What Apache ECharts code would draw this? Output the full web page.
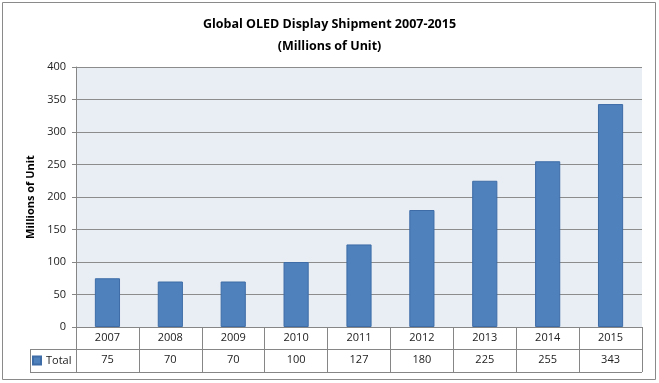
<!DOCTYPE html>
<html><head><meta charset="utf-8">
<script src="https://cdn.jsdelivr.net/npm/echarts@6/dist/echarts.min.js"></script>
<style>html,body{margin:0;padding:0;background:#fff}#c{width:659px;height:383px}</style>
</head><body><div id="c"></div>
<script>
const categories = ['2007','2008','2009','2010','2011','2012','2013','2014','2015'];
const totals = [75,70,70,100,127,180,225,255,343];
const seriesName = 'Total';
const yTicks = {min:0, max:400, interval:50};

const font = "'Open Sans', 'DejaVu Sans', sans-serif";
const chart = echarts.init(document.getElementById('c'));
const G = {left:76, right:17, top:67, bottom:56};
const W = 659, H = 383;
const gx0 = G.left, gx1 = W - G.right, gy1 = H - G.bottom;
chart.setOption({
  animation:false,
  textStyle:{fontFamily:font},
  title:{
    text:'Global OLED Display Shipment 2007-2015\n(Millions of Unit)',
    left:'center', top:8,
    textStyle:{fontFamily:font, fontSize:12.5, fontWeight:'bold', color:'#000', lineHeight:22}
  },
  legend:{
    data:[seriesName], left:32, top:355, itemWidth:8, itemHeight:8, itemGap:4,
    icon:'rect', textStyle:{fontSize:11, color:'#222', fontFamily:font}, padding:0
  },
  grid:{left:G.left, right:G.right, top:G.top, bottom:G.bottom, show:true, backgroundColor:'#e9edf4', borderWidth:0},
  xAxis:[{
    type:'category', data:categories, position:'bottom',
    axisLine:{show:true, lineStyle:{color:'#868686'}},
    axisTick:{show:true, interval:0, length:45, lineStyle:{color:'#868686'}},
    axisLabel:{interval:0, color:'#222', fontSize:11, margin:5}
  },{
    type:'category', data:categories, position:'bottom', offset:22,
    axisLine:{show:false}, axisTick:{show:false},
    axisLabel:{interval:0, color:'#222', fontSize:11, margin:5,
      formatter:(v, i)=>String(totals[i])}
  }],
  yAxis:{
    type:'value', min:yTicks.min, max:yTicks.max, interval:yTicks.interval,
    name:'Millions of Unit', nameLocation:'middle', nameGap:40,
    nameTextStyle:{fontWeight:'bold', fontSize:11, color:'#000', fontFamily:font},
    axisLine:{show:true, lineStyle:{color:'#868686'}},
    axisTick:{show:true, length:4, lineStyle:{color:'#868686'}},
    axisLabel:{color:'#222', fontSize:11, margin:10},
    splitLine:{show:true, lineStyle:{color:'#8c8c8c', width:1}}
  },
  series:[{
    name:seriesName, type:'bar', data:totals, barWidth:'40%', xAxisIndex:0,
    itemStyle:{color:'#4f81bd', borderColor:'#3d6ca6', borderWidth:1}
  }],
  graphic:[
    {type:'rect', shape:{x:2.5, y:2.5, width:653, height:377}, style:{fill:null, stroke:'#8a8a8a', lineWidth:1}, silent:true, z:-1},
    {type:'line', shape:{x1:30, y1:gy1+22.5, x2:gx1, y2:gy1+22.5}, style:{stroke:'#868686', lineWidth:1}, silent:true},
    {type:'line', shape:{x1:30, y1:gy1+45.5, x2:gx1, y2:gy1+45.5}, style:{stroke:'#868686', lineWidth:1}, silent:true},
    {type:'line', shape:{x1:30.5, y1:gy1+22, x2:30.5, y2:gy1+46}, style:{stroke:'#868686', lineWidth:1}, silent:true}
  ]
});
</script></body></html>
